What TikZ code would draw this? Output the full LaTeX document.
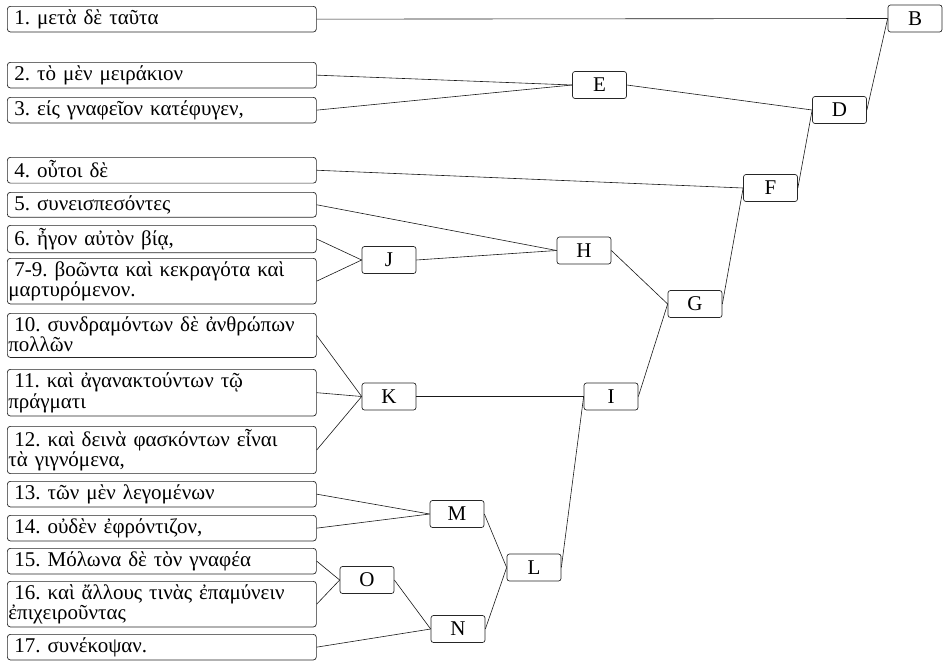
\documentclass[tikz,border=0pt]{standalone}
\usepackage{fontspec}
\setmainfont{Liberation Serif}
\frenchspacing
\newcommand{\ls}{\rule[-3pt]{0pt}{18.5pt}}
\newcommand{\fl}[1]{\ls\hspace*{6pt}\mbox{#1}}
\begin{document}
\begin{tikzpicture}[x=1pt,y=-1pt,
  leaf/.style={draw=black!85, line width=0.7pt, rounded corners=3pt, anchor=north west,
    text width=307pt, inner xsep=1pt, inner ysep=2.8pt, align=left,
    font=\fontsize{21}{20}\selectfont\frenchspacing},
  knot/.style={draw=black!85, line width=0.7pt, rounded corners=2.5pt,
    minimum width=54pt, minimum height=27pt, inner sep=0pt,
    font=\fontsize{21}{20}\selectfont},
  link/.style={draw=black!90, line width=0.6pt}]
\useasboundingbox (0,0) rectangle (944,662);
% leaves
\node[leaf] (l1)  at (7,6)   {\fl{1. μετὰ δὲ ταῦτα}};
\node[leaf] (l2)  at (7,62)  {\fl{2. τὸ μὲν μειράκιον}};
\node[leaf] (l3)  at (7,97)  {\fl{3. είς γναφεῖον κατέφυγεν,}};
\node[leaf] (l4)  at (7,157) {\fl{4. οὗτοι δὲ}};
\node[leaf] (l5)  at (7,192) {\fl{5. συνεισπεσόντες}};
\node[leaf] (l6)  at (7,225) {\fl{6. ἦγον αὐτὸν βίᾳ,}};
\node[leaf] (l7)  at (7,258) {\fl{7-9. βοῶντα καὶ κεκραγότα καὶ}\\\ls μαρτυρόμενον.};
\node[leaf] (l10) at (7,313) {\fl{10. συνδραμόντων δὲ ἀνθρώπων}\\\ls πολλῶν};
\node[leaf] (l11) at (7,369) {\fl{11. καὶ ἀγανακτούντων τῷ}\\\ls πράγματι};
\node[leaf] (l12) at (7,426) {\fl{12. καὶ δεινὰ φασκόντων εἶναι}\\\ls τὰ γιγνόμενα,};
\node[leaf] (l13) at (7,481) {\fl{13. τῶν μὲν λεγομένων}};
\node[leaf] (l14) at (7,515) {\fl{14. οὐδὲν ἐφρόντιζον,}};
\node[leaf] (l15) at (7,548) {\fl{15. Μόλωνα δὲ τὸν γναφέα}};
\node[leaf] (l16) at (7,581) {\fl{16. καὶ ἄλλους τινὰς ἐπαμύνειν}\\\ls ἐπιχειροῦντας};
\node[leaf] (l17) at (7,634) {\fl{17. συνέκοψαν.}};
% inner nodes
\node[knot] (B) at (915,18.5) {B};
\node[knot] (E) at (599.5,85) {E};
\node[knot] (D) at (839.5,110) {D};
\node[knot] (F) at (770.5,188) {F};
\node[knot] (H) at (584,250.5) {H};
\node[knot] (J) at (389,260) {J};
\node[knot] (G) at (695,304) {G};
\node[knot] (K) at (389,396.5) {K};
\node[knot] (I) at (611,396.5) {I};
\node[knot] (M) at (457,514) {M};
\node[knot] (L) at (534,567.5) {L};
\node[knot] (O) at (367,580) {O};
\node[knot] (N) at (458,629) {N};
% connectors
\path[link] (l1.east) -- (B.west);
\path[link] (l2.east) -- (E.west);
\path[link] (l3.east) -- (E.west);
\path[link] (E.east) -- (D.west);
\path[link] (D.east) -- (B.west);
\path[link] (l4.east) -- (F.west);
\path[link] (F.east) -- (D.west);
\path[link] (l5.east) -- (H.west);
\path[link] (l6.east) -- (J.west);
\path[link] (l7.east) -- (J.west);
\path[link] (J.east) -- (H.west);
\path[link] (H.east) -- (G.west);
\path[link] (G.east) -- (F.west);
\path[link] (l10.east) -- (K.west);
\path[link] (l11.east) -- (K.west);
\path[link] (l12.east) -- (K.west);
\path[link] (K.east) -- (I.west);
\path[link] (I.east) -- (G.west);
\path[link] (l13.east) -- (M.west);
\path[link] (l14.east) -- (M.west);
\path[link] (M.east) -- (L.west);
\path[link] (L.east) -- (I.west);
\path[link] (l15.east) -- (O.west);
\path[link] (l16.east) -- (O.west);
\path[link] (O.east) -- (N.west);
\path[link] (l17.east) -- (N.west);
\path[link] (N.east) -- (L.west);
\end{tikzpicture}
\end{document}
